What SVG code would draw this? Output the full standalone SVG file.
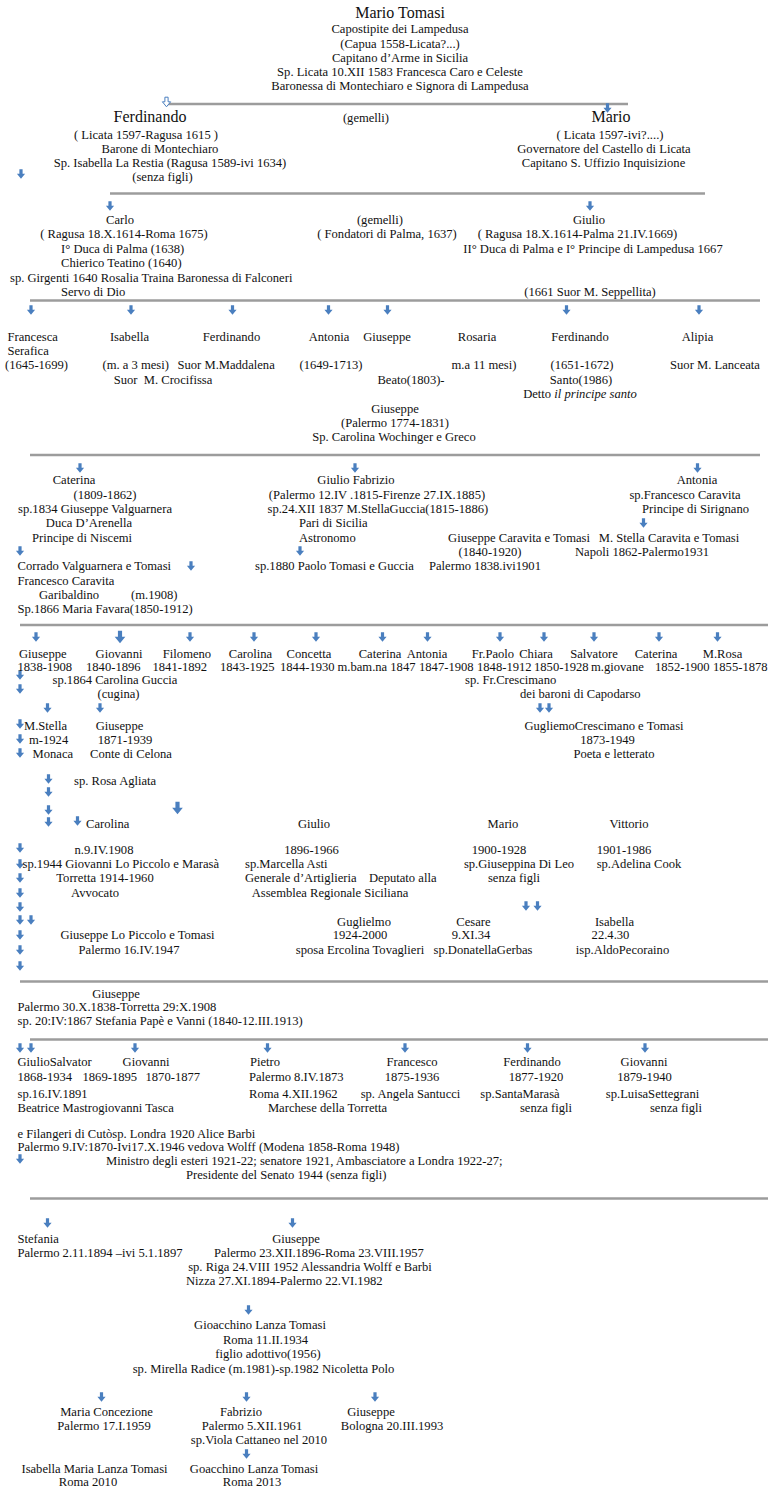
<svg xmlns="http://www.w3.org/2000/svg" xmlns:xlink="http://www.w3.org/1999/xlink" width="771" height="1487" viewBox="0 0 771 1487">
<style>
.t{font-family:"Liberation Serif","Times New Roman",serif;font-size:12.6px;fill:#111}
.c{text-anchor:middle}
.big{font-size:16px}
.ln{stroke:#9c9c9c;stroke-width:2.6;fill:none}
.ar{fill:#4a7fbf}
.ho{fill:#fff;stroke:#4a7fbf;stroke-width:1}
</style>
<defs>
<path id="a" d="M-1.6,-4.8 h3.2 v4.6 h2.5 l-4.1,5 l-4.1,-5 h2.5 z"/>
</defs>
<rect width="771" height="1487" fill="#fff"/>

<g id="connectors">
<line class="ln" x1="165" y1="104" x2="628" y2="104"/>
<line class="ln" x1="110" y1="193.5" x2="705" y2="193.5"/>
<line class="ln" x1="30" y1="300.5" x2="760" y2="300.5"/>
<line class="ln" x1="30" y1="455" x2="760" y2="455"/>
<line class="ln" x1="20" y1="625" x2="768" y2="625"/>
<line class="ln" x1="20" y1="981.5" x2="768" y2="981.5"/>
<line class="ln" x1="30" y1="1039.5" x2="768" y2="1039.5"/>
<line class="ln" x1="30" y1="1198.5" x2="768" y2="1198.5"/>
<use href="#a" class="ho" x="166.5" y="102"/>
<use href="#a" class="ar" x="607.5" y="108"/>
<use href="#a" class="ar" x="21" y="174"/>
<use href="#a" class="ar" x="110" y="206"/>
<use href="#a" class="ar" x="590" y="206"/>
<g class="ar">
<use href="#a" x="31" y="310"/><use href="#a" x="131" y="310"/><use href="#a" x="232.5" y="310"/><use href="#a" x="328.5" y="310"/><use href="#a" x="387.5" y="310"/><use href="#a" x="566.5" y="310"/><use href="#a" x="699" y="310"/>
<use href="#a" x="80" y="468"/><use href="#a" x="355" y="468"/><use href="#a" x="697.5" y="468"/>
<use href="#a" x="643.5" y="523"/><use href="#a" x="20" y="551"/><use href="#a" x="300" y="551"/><use href="#a" x="191" y="566"/>
<use href="#a" x="36" y="637"/><use href="#a" transform="translate(120 637) scale(1.3)"/><use href="#a" x="190" y="637"/><use href="#a" x="254" y="637"/><use href="#a" x="316" y="637"/><use href="#a" x="382.5" y="637"/><use href="#a" x="427.5" y="637"/><use href="#a" x="500" y="637"/><use href="#a" x="544" y="637"/><use href="#a" x="594" y="637"/><use href="#a" x="659" y="637"/><use href="#a" x="717.5" y="637"/>
<use href="#a" x="20" y="675"/><use href="#a" x="20" y="689"/>
<use href="#a" x="47.5" y="708"/><use href="#a" x="100" y="708"/><use href="#a" x="540" y="708"/><use href="#a" x="549" y="708"/>
<use href="#a" x="20" y="724"/><use href="#a" x="20" y="739"/><use href="#a" x="20" y="753"/>
<use href="#a" x="48.5" y="779"/><use href="#a" x="48.5" y="792"/><use href="#a" x="48.5" y="810"/><use href="#a" transform="translate(177.5 808) scale(1.3)"/><use href="#a" x="48.5" y="822"/><use href="#a" x="77.5" y="821"/>
<use href="#a" x="20" y="848"/><use href="#a" x="20" y="864"/><use href="#a" x="20" y="878"/><use href="#a" x="20" y="893"/><use href="#a" x="20" y="907"/><use href="#a" x="20" y="920"/><use href="#a" x="31" y="920"/><use href="#a" x="20" y="935"/><use href="#a" x="20" y="950"/><use href="#a" x="20" y="966"/>
<use href="#a" x="526" y="906"/><use href="#a" x="537.5" y="906"/>
<use href="#a" x="20" y="1048"/><use href="#a" x="31" y="1048"/><use href="#a" x="135" y="1048"/><use href="#a" x="267.5" y="1048"/><use href="#a" x="405" y="1048"/><use href="#a" x="527.5" y="1048"/><use href="#a" x="645" y="1048"/>
<use href="#a" x="20" y="1159"/>
<use href="#a" x="47.5" y="1223"/><use href="#a" x="292.5" y="1223"/>
<use href="#a" x="248.5" y="1310"/>
<use href="#a" x="101.5" y="1397"/><use href="#a" x="246.5" y="1397"/><use href="#a" x="375" y="1397"/>
<use href="#a" x="246.5" y="1454"/>
</g>
</g>

<g id="n-mario-tomasi" class="t c">
<text class="big" x="400" y="18">Mario Tomasi</text>
<text x="400" y="33">Capostipite dei Lampedusa</text>
<text x="400" y="47.5">(Capua 1558-Licata?...)</text>
<text x="400" y="61.5">Capitano d’Arme in Sicilia</text>
<text x="400" y="76">Sp. Licata 10.XII 1583 Francesca Caro e Celeste</text>
<text x="400" y="90">Baronessa di Montechiaro e Signora di Lampedusa</text>
</g>

<g id="n-ferdinando" class="t c">
<text class="big" x="150" y="122">Ferdinando</text>
<text x="146" y="139">( Licata 1597-Ragusa 1615 )</text>
<text x="160" y="152.5">Barone di Montechiaro</text>
<text x="170" y="167">Sp. Isabella La Restia (Ragusa 1589-ivi 1634)</text>
<text x="162.5" y="181">(senza figli)</text>
</g>
<g id="n-gemelli1" class="t c"><text x="366" y="122">(gemelli)</text></g>
<g id="n-mario" class="t c">
<text class="big" x="611" y="122">Mario</text>
<text x="610" y="139">( Licata 1597-ivi?....)</text>
<text x="604" y="152.5">Governatore del Castello di Licata</text>
<text x="603.5" y="167">Capitano S. Uffizio Inquisizione</text>
</g>

<g id="n-carlo" class="t">
<text class="c" x="120" y="223.5">Carlo</text>
<text class="c" x="124" y="238">( Ragusa 18.X.1614-Roma 1675)</text>
<text x="61" y="252.5">I° Duca di Palma (1638)</text>
<text x="61" y="267">Chierico Teatino (1640)</text>
<text x="10" y="281.5">sp. Girgenti 1640 Rosalia Traina Baronessa di Falconeri</text>
<text x="61" y="296">Servo di Dio</text>
</g>
<g id="n-gemelli2" class="t c">
<text x="380" y="223.5">(gemelli)</text>
<text x="387" y="238">( Fondatori di Palma, 1637)</text>
</g>
<g id="n-giulio" class="t c">
<text x="589" y="223.5">Giulio</text>
<text x="577.5" y="238">( Ragusa 18.X.1614-Palma 21.IV.1669)</text>
<text x="593" y="252.5">II° Duca di Palma e I° Principe di Lampedusa 1667</text>
<text x="590" y="296">(1661 Suor M. Seppellita)</text>
</g>

<g id="n-francesca" class="t">
<text x="7.5" y="341">Francesca</text>
<text x="7.5" y="354.5">Serafica</text>
<text x="5" y="369">(1645-1699)</text>
</g>
<g id="n-isabella" class="t">
<text class="c" x="129.5" y="341">Isabella</text>
<text x="102.5" y="369">(m. a 3 mesi)</text>
<text class="c" x="163" y="383.5" xml:space="preserve">Suor  M. Crocifissa</text>
</g>
<g id="n-ferdinando2" class="t">
<text class="c" x="231.5" y="341">Ferdinando</text>
<text x="177.5" y="369">Suor M.Maddalena</text>
</g>
<g id="n-antonia" class="t c">
<text x="329" y="341">Antonia</text>
<text x="331" y="369">(1649-1713)</text>
</g>
<g id="n-giuseppe" class="t c">
<text x="387" y="341">Giuseppe</text>
<text x="411" y="383.5">Beato(1803)-</text>
</g>
<g id="n-rosaria" class="t c">
<text x="477" y="341">Rosaria</text>
<text x="484" y="369">m.a 11 mesi)</text>
</g>
<g id="n-ferdinando3" class="t c">
<text x="580" y="341">Ferdinando</text>
<text x="582" y="369">(1651-1672)</text>
<text x="581" y="383.5">Santo(1986)</text>
<text x="580" y="398">Detto <tspan font-style="italic">il principe santo</tspan></text>
</g>
<g id="n-alipia" class="t c">
<text x="697.5" y="341">Alipia</text>
<text x="715" y="369">Suor M. Lanceata</text>
</g>

<g id="n-giuseppe1774" class="t c">
<text x="395" y="412.5">Giuseppe</text>
<text x="395" y="427">(Palermo 1774-1831)</text>
<text x="394" y="441">Sp. Carolina Wochinger e Greco</text>
</g>

<g id="n-caterina" class="t">
<text class="c" x="74" y="483.5">Caterina</text>
<text class="c" x="105" y="499">(1809-1862)</text>
<text class="c" x="95" y="513">sp.1834 Giuseppe Valguarnera</text>
<text class="c" x="89" y="527">Duca D’Arenella</text>
<text class="c" x="82" y="541.5">Principe di Niscemi</text>
<text x="17.5" y="570">Corrado Valguarnera e Tomasi</text>
<text x="17.5" y="584.5">Francesco Caravita</text>
<text x="39" y="598.5">Garibaldino</text>
<text x="131" y="598.5">(m.1908)</text>
<text x="17.5" y="613">Sp.1866 Maria Favara(1850-1912)</text>
</g>
<g id="n-giulio-fabrizio" class="t">
<text class="c" x="356" y="483.5">Giulio Fabrizio</text>
<text class="c" x="377" y="499">(Palermo 12.IV .1815-Firenze 27.IX.1885)</text>
<text x="267.5" y="513">sp.24.XII 1837 M.StellaGuccia(1815-1886)</text>
<text x="299" y="527">Pari di Sicilia</text>
<text x="299" y="541.5">Astronomo</text>
<text x="255" y="570">sp.1880 Paolo Tomasi e Guccia</text>
</g>
<g id="n-giuseppe-caravita" class="t">
<text class="c" x="519" y="541.5">Giuseppe Caravita e Tomasi</text>
<text class="c" x="490" y="556">(1840-1920)</text>
<text x="429" y="570">Palermo 1838.ivi1901</text>
</g>
<g id="n-antonia2" class="t c">
<text x="697" y="483.5">Antonia</text>
<text x="685" y="499">sp.Francesco Caravita</text>
<text x="695.5" y="513">Principe di Sirignano</text>
<text x="669" y="541.5">M. Stella Caravita e Tomasi</text>
<text x="642" y="556">Napoli 1862-Palermo1931</text>
</g>

<g id="n-giuseppe1838" class="t">
<text x="19" y="657.5">Giuseppe</text>
<text x="17.5" y="671">1838-1908</text>
</g>
<g id="n-giovanni1840" class="t">
<text class="c" x="119" y="657.5">Giovanni</text>
<text x="86" y="671">1840-1896</text>
<text x="52.5" y="684">sp.1864 Carolina Guccia</text>
<text x="97.5" y="698">(cugina)</text>
</g>
<g id="n-filomeno" class="t"><text class="c" x="187" y="657.5">Filomeno</text><text x="152.5" y="671">1841-1892</text></g>
<g id="n-carolina1843" class="t"><text class="c" x="250.5" y="657.5">Carolina</text><text x="220" y="671">1843-1925</text></g>
<g id="n-concetta" class="t"><text class="c" x="309" y="657.5">Concetta</text><text x="280" y="671">1844-1930</text></g>
<g id="n-caterina1847" class="t"><text class="c" x="380" y="657.5">Caterina</text><text x="337.5" y="671">m.bam.na 1847</text></g>
<g id="n-antonia1847" class="t"><text class="c" x="427" y="657.5">Antonia</text><text x="419" y="671">1847-1908</text></g>
<g id="n-frpaolo" class="t"><text class="c" x="493" y="657.5">Fr.Paolo</text><text x="477" y="671">1848-1912</text></g>
<g id="n-chiara" class="t">
<text class="c" x="536" y="657.5">Chiara</text>
<text x="465" y="684">sp. Fr.Crescimano</text>
<text x="520" y="698">dei baroni di Capodarso</text>
</g>
<g id="n-salvatore" class="t"><text class="c" x="594" y="657.5">Salvatore</text><text x="534" y="671">1850-1928</text></g>
<g id="n-caterina-giovane" class="t"><text class="c" x="656" y="657.5">Caterina</text><text x="591" y="671">m.giovane</text></g>
<g id="n-mrosa" class="t"><text class="c" x="722.5" y="657.5">M.Rosa</text><text x="655" y="671">1852-1900</text><text x="713" y="671">1855-1878</text></g>

<g id="n-mstella" class="t">
<text x="24" y="729.5">M.Stella</text>
<text x="29" y="743.5">m-1924</text>
<text x="32.5" y="757.5">Monaca</text>
</g>
<g id="n-giuseppe1871" class="t">
<text class="c" x="119.5" y="729.5">Giuseppe</text>
<text class="c" x="125" y="743.5">1871-1939</text>
<text class="c" x="131" y="757.5">Conte di Celona</text>
<text x="74" y="785">sp. Rosa Agliata</text>
</g>
<g id="n-guglielmo-crescimano" class="t c">
<text x="604" y="729.5">GugliemoCrescimano e Tomasi</text>
<text x="607.5" y="743.5">1873-1949</text>
<text x="614" y="757.5">Poeta e letterato</text>
</g>

<g id="n-carolina1908" class="t">
<text x="86" y="827.5">Carolina</text>
<text class="c" x="104" y="854">n.9.IV.1908</text>
<text x="22.5" y="868">sp.1944 Giovanni Lo Piccolo e Marasà</text>
<text class="c" x="105" y="882">Torretta 1914-1960</text>
<text class="c" x="95" y="897">Avvocato</text>
</g>
<g id="n-giulio1896" class="t">
<text class="c" x="314" y="827.5">Giulio</text>
<text class="c" x="311.5" y="854">1896-1966</text>
<text x="245" y="868">sp.Marcella Asti</text>
<text x="245" y="882">Generale d’Artiglieria</text>
<text x="369" y="882">Deputato alla</text>
<text class="c" x="330" y="897">Assemblea Regionale Siciliana</text>
</g>
<g id="n-mario1900" class="t c">
<text x="503" y="827.5">Mario</text>
<text x="499" y="854">1900-1928</text>
<text x="519" y="868">sp.Giuseppina Di Leo</text>
<text x="514" y="882">senza figli</text>
</g>
<g id="n-vittorio" class="t c">
<text x="629" y="827.5">Vittorio</text>
<text x="624" y="854">1901-1986</text>
<text x="639" y="868">sp.Adelina Cook</text>
</g>
<g id="n-giuseppe-lopiccolo" class="t c">
<text x="137.5" y="939">Giuseppe Lo Piccolo e Tomasi</text>
<text x="129" y="954">Palermo 16.IV.1947</text>
</g>
<g id="n-guglielmo" class="t c">
<text x="364" y="925.5">Guglielmo</text>
<text x="360" y="939">1924-2000</text>
<text x="360" y="954">sposa Ercolina Tovaglieri</text>
</g>
<g id="n-cesare" class="t c">
<text x="473.5" y="925.5">Cesare</text>
<text x="471" y="939">9.XI.34</text>
<text x="483" y="954">sp.DonatellaGerbas</text>
</g>
<g id="n-isabella1930" class="t c">
<text x="614.5" y="925.5">Isabella</text>
<text x="610.5" y="939">22.4.30</text>
<text x="622.5" y="954">isp.AldoPecoraino</text>
</g>

<g id="n-giuseppe-torretta" class="t">
<text class="c" x="116" y="997.5">Giuseppe</text>
<text x="17.5" y="1011">Palermo 30.X.1838-Torretta 29:X.1908</text>
<text x="17.5" y="1025">sp. 20:IV:1867 Stefania Papè e Vanni (1840-12.III.1913)</text>
</g>

<g id="n-giulio-salvator" class="t">
<text x="17.5" y="1066">GiulioSalvator</text>
<text x="17.5" y="1081">1868-1934</text>
<text x="17.5" y="1097.5">sp.16.IV.1891</text>
<text x="17.5" y="1112">Beatrice Mastrogiovanni Tasca</text>
<text x="17.5" y="1137.5">e Filangeri di Cutòsp. Londra 1920 Alice Barbi</text>
</g>
<g id="n-giovanni1869" class="t">
<text class="c" x="146" y="1066">Giovanni</text>
<text x="82.5" y="1081">1869-1895</text>
<text x="145.5" y="1081">1870-1877</text>
</g>
<g id="n-pietro" class="t">
<text x="250" y="1066">Pietro</text>
<text x="249" y="1081">Palermo 8.IV.1873</text>
<text x="249" y="1097.5">Roma 4.XII.1962</text>
<text class="c" x="327.5" y="1112">Marchese della Torretta</text>
<text x="17.5" y="1151">Palermo 9.IV:1870-Ivi17.X.1946 vedova Wolff (Modena 1858-Roma 1948)</text>
<text x="106" y="1164.5">Ministro degli esteri 1921-22; senatore 1921, Ambasciatore a Londra 1922-27;</text>
<text x="186" y="1178.5">Presidente del Senato 1944 (senza figli)</text>
</g>
<g id="n-francesco" class="t c">
<text x="412" y="1066">Francesco</text>
<text x="412" y="1081">1875-1936</text>
<text x="410.5" y="1097.5">sp. Angela Santucci</text>
</g>
<g id="n-ferdinando1877" class="t c">
<text x="532" y="1066">Ferdinando</text>
<text x="536" y="1081">1877-1920</text>
<text x="520" y="1097.5">sp.SantaMarasà</text>
<text x="546" y="1112">senza figli</text>
</g>
<g id="n-giovanni1879" class="t c">
<text x="644" y="1066">Giovanni</text>
<text x="644.5" y="1081">1879-1940</text>
<text x="652.5" y="1097.5">sp.LuisaSettegrani</text>
<text x="676" y="1112">senza figli</text>
</g>

<g id="n-stefania" class="t">
<text x="17.5" y="1243">Stefania</text>
<text x="17.5" y="1257">Palermo 2.11.1894 –ivi 5.1.1897</text>
</g>
<g id="n-giuseppe1896" class="t">
<text class="c" x="296" y="1243">Giuseppe</text>
<text class="c" x="319" y="1257">Palermo 23.XII.1896-Roma 23.VIII.1957</text>
<text class="c" x="310" y="1271">sp. Riga 24.VIII 1952 Alessandria Wolff e Barbi</text>
<text x="186" y="1285">Nizza 27.XI.1894-Palermo 22.VI.1982</text>
</g>
<g id="n-gioacchino" class="t c">
<text x="260" y="1329">Gioacchino Lanza Tomasi</text>
<text x="265.5" y="1343.5">Roma 11.II.1934</text>
<text x="268" y="1358">figlio adottivo(1956)</text>
<text x="263.5" y="1372.5">sp. Mirella Radice (m.1981)-sp.1982 Nicoletta Polo</text>
</g>
<g id="n-maria-concezione" class="t c">
<text x="106.5" y="1416">Maria Concezione</text>
<text x="104" y="1430">Palermo 17.I.1959</text>
</g>
<g id="n-fabrizio" class="t c">
<text x="241" y="1416">Fabrizio</text>
<text x="252" y="1430">Palermo 5.XII.1961</text>
<text x="259" y="1444">sp.Viola Cattaneo nel 2010</text>
</g>
<g id="n-giuseppe1993" class="t c">
<text x="371" y="1416">Giuseppe</text>
<text x="392" y="1430">Bologna 20.III.1993</text>
</g>
<g id="n-isabella2010" class="t c">
<text x="94.5" y="1472.5">Isabella Maria Lanza Tomasi</text>
<text x="88" y="1486">Roma 2010</text>
</g>
<g id="n-goacchino2013" class="t c">
<text x="254" y="1472.5">Goacchino Lanza Tomasi</text>
<text x="252" y="1486">Roma 2013</text>
</g>
</svg>
